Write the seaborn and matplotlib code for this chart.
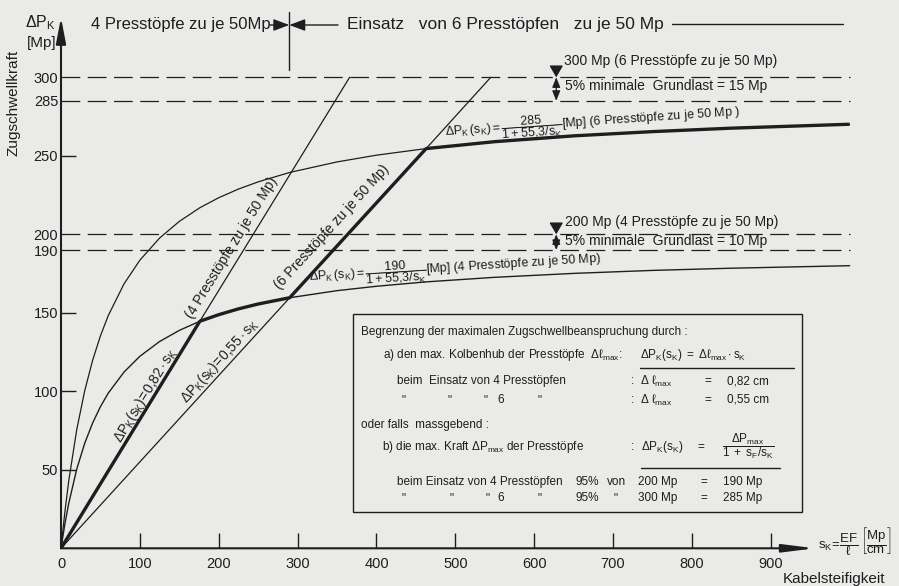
import matplotlib
matplotlib.use('Agg')
import matplotlib.pyplot as plt
import seaborn as sns
from matplotlib import font_manager
from matplotlib.lines import Line2D
from matplotlib.patches import Rectangle

# Kabelsteifigkeit s_K [Mp/cm] und Zugschwellkraft dP_K [Mp]
s_kurve = [0, 5, 10, 20, 30, 40, 50, 60, 80, 100, 125, 150, 176, 200, 225, 250, 290,
           350, 400, 463, 550, 650, 750, 850, 1000]
p_190 = [0, 15.8, 29.1, 50.5, 66.8, 79.7, 90.2, 98.9, 112.3, 122.3, 131.7, 138.8, 144.6,
         148.8, 152.5, 155.6, 159.6, 164.1, 166.9, 169.7, 172.6, 175.1, 177.0, 178.4, 180.0]
p_285 = [0, 23.6, 43.6, 75.7, 100.2, 119.6, 135.3, 148.3, 168.5, 183.5, 197.6, 208.2, 216.9,
         223.3, 228.8, 233.4, 239.4, 246.1, 250.4, 254.6, 259.0, 262.7, 265.4, 267.6, 270.1]
s_082 = [0, 176, 366]
p_082 = [0, 144.6, 300]
s_055 = [0, 290, 463, 545]
p_055 = [0, 159.6, 254.6, 300]
grenzen = [300, 285, 200, 190]
x_ticks = [0, 100, 200, 300, 400, 500, 600, 700, 800, 900]
y_ticks = [50, 100, 150, 190, 200, 250, 285, 300]

# massgebende Grenzkurve (dick): 0,82-Gerade -> 190er Kurve -> 0,55-Gerade -> 285er Kurve
dick_s = s_082[:1] + s_kurve[12:17] + s_kurve[19:]
dick_p = p_082[:1] + p_190[12:17] + p_285[19:]

W, H = 899, 586
bg = '#eaeae8'
ink = '#1e1e1e'


def P(x, y):
    # Pixel (von oben links) -> figure fraction
    return x / W, 1 - y / H


sns.set_theme(style='white')
installed = {f.name for f in font_manager.fontManager.ttflist}
schrift = 'Liberation Sans Narrow' if 'Liberation Sans Narrow' in installed else 'Liberation Sans'
k = 1.15 if 'Narrow' in schrift else 1.0
plt.rcParams['font.family'] = [schrift, 'DejaVu Sans']
plt.rcParams['mathtext.fontset'] = 'custom'
plt.rcParams['mathtext.rm'] = schrift
plt.rcParams['mathtext.it'] = schrift
plt.rcParams['mathtext.sf'] = schrift
plt.rcParams['mathtext.bf'] = schrift + ':bold'
plt.rcParams['text.color'] = ink

fig = plt.figure(figsize=(8.99, 5.86), dpi=100, facecolor=bg)
ax = fig.add_axes([61 / W, 37.7 / H, 796.5 / W, 541.65 / H])
ax.set_facecolor(bg)
ax.set_xlim(0, 1010)
ax.set_ylim(0, 345)
for sp in ax.spines.values():
    sp.set_visible(False)

# Kurven
sns.lineplot(x=s_kurve, y=p_285, ax=ax, color=ink, lw=0.9, sort=False, estimator=None)
sns.lineplot(x=s_kurve, y=p_190, ax=ax, color=ink, lw=1.0, sort=False, estimator=None)
sns.lineplot(x=s_082, y=p_082, ax=ax, color=ink, lw=0.9, sort=False, estimator=None)
sns.lineplot(x=s_055, y=p_055, ax=ax, color=ink, lw=0.9, sort=False, estimator=None)
sns.lineplot(x=dick_s, y=dick_p, ax=ax, color=ink, lw=2.4, sort=False, estimator=None,
             solid_joinstyle='round', solid_capstyle='butt')

ax.hlines(grenzen, 0, 1000, colors=ink, lw=0.9, linestyles=[(0, (15, 6))])

# Achsen mit Pfeilen
ax.annotate('', xy=(956, 0), xytext=(0, 0), annotation_clip=False,
            arrowprops=dict(arrowstyle='-|>,head_length=1.6,head_width=0.2', color=ink,
                            lw=1.5, shrinkA=0, shrinkB=0))
ax.annotate('', xy=(0, 338), xytext=(0, 0), annotation_clip=False,
            arrowprops=dict(arrowstyle='-|>,head_length=1.3,head_width=0.25', color=ink,
                            lw=1.5, shrinkA=0, shrinkB=0))

ax.set_xticks(x_ticks)
ax.set_xticklabels([str(v) for v in x_ticks])
ax.set_yticks(y_ticks)
ax.set_yticklabels([str(v) for v in y_ticks])
ax.tick_params(axis='x', direction='in', length=11, width=1, pad=6, labelsize=10.5 * k,
               color=ink, labelcolor=ink, bottom=True)
ax.tick_params(axis='y', direction='in', length=11, width=1, pad=2, labelsize=10.5 * k,
               color=ink, labelcolor=ink, left=True)
for t, v in zip(ax.yaxis.get_major_ticks(), y_ticks):
    if v in grenzen:
        t.tick1line.set_visible(False)
ax.xaxis.get_major_ticks()[0].tick1line.set_visible(False)

# Bemassung 5% Grundlast
for oben, unten in [(300, 285), (200, 190)]:
    ax.annotate('', xy=(628, oben), xytext=(628, unten),
                arrowprops=dict(arrowstyle='<|-|>,head_length=0.5,head_width=0.2', color=ink,
                                lw=0.9, shrinkA=0, shrinkB=0))
    ax.annotate('', xy=(628, oben), xytext=(628, oben + 6),
                arrowprops=dict(arrowstyle='-|>,head_length=0.6,head_width=0.35', color=ink,
                                lw=0.9, shrinkA=0, shrinkB=0))

fig.text(*P(564, 61), '300 Mp (6 Presstöpfe zu je 50 Mp)', va='center', fontsize=10 * k)
fig.text(*P(565, 86), '5% minimale  Grundlast = 15 Mp', va='center', fontsize=10 * k)
fig.text(*P(565, 222), '200 Mp (4 Presstöpfe zu je 50 Mp)', va='center', fontsize=10 * k)
fig.text(*P(565, 241), '5% minimale  Grundlast = 10 Mp', va='center', fontsize=10 * k)

# Kopfzeile
fig.text(*P(91, 25), '4 Presstöpfe zu je 50Mp', va='center', fontsize=12 * k)
fig.text(*P(347, 25), 'Einsatz   von 6 Presstöpfen   zu je 50 Mp', va='center', fontsize=12.5 * k)
for x0 in (270, 338):
    ax.annotate('', xy=P(289.3, 25), xytext=P(x0, 25), xycoords='figure fraction',
                textcoords='figure fraction',
                arrowprops=dict(arrowstyle='-|>,head_length=0.8,head_width=0.3', color=ink,
                                lw=1, shrinkA=0, shrinkB=0))
fig.add_artist(Line2D([289.3 / W] * 2, [1 - 11.7 / H, 1 - 70 / H], transform=fig.transFigure,
                      color=ink, lw=1))
fig.add_artist(Line2D([672 / W, 843 / W], [1 - 24 / H] * 2, transform=fig.transFigure,
                      color=ink, lw=1))

# Achsbeschriftungen
fig.text(*P(40, 23), r'$\Delta P_K$', ha='center', va='center', fontsize=11.5 * k)
fig.text(*P(42, 43), '[Mp]', ha='center', va='center', fontsize=11 * k)
fig.text(*P(14, 103), 'Zugschwellkraft', rotation=90, ha='center', va='center', fontsize=11 * k)
fig.text(*P(818, 541), r'$s_K\!=\!\dfrac{EF}{\ell}\,\left[\dfrac{Mp}{cm}\right]$',
         ha='left', va='center', fontsize=9.5 * k)
fig.text(*P(783, 579), 'Kabelsteifigkeit', ha='left', va='center', fontsize=11 * k)

# Beschriftung der Kurven
fs = 10 * k
fig.text(*P(146, 395), r'$\Delta P_K(s_K)\!=\!0{,}82\cdot s_K$', rotation=58.5,
         rotation_mode='anchor', ha='center', va='center', fontsize=fs)
fig.text(*P(220, 361), r'$\Delta P_K(s_K)\!=\!0{,}55\cdot s_K$', rotation=47.6,
         rotation_mode='anchor', ha='center', va='center', fontsize=fs)
fig.text(*P(232, 248), '(4 Presstöpfe zu je 50 Mp)', rotation=58.5,
         rotation_mode='anchor', ha='center', va='center', fontsize=fs)
fig.text(*P(332, 227), '(6 Presstöpfe zu je 50 Mp)', rotation=47.6,
         rotation_mode='anchor', ha='center', va='center', fontsize=fs)
fig.text(*P(455, 270), r'$\Delta P_K\,(s_K) = \dfrac{190}{1+55{,}3/s_K}$[Mp] (4 Presstöpfe zu je 50 Mp)',
         rotation=3.6, rotation_mode='anchor', ha='center', va='center', fontsize=9 * k)
fig.text(*P(593, 124), r'$\Delta P_K\,(s_K) = \dfrac{285}{1+55{,}3/s_K}$[Mp] (6 Presstöpfe zu je 50 Mp )',
         rotation=3.9, rotation_mode='anchor', ha='center', va='center', fontsize=9 * k)

# Kasten mit Erlaeuterung
fig.add_artist(Rectangle(P(352.5, 511.7), (801.7 - 352.5) / W, (511.7 - 314) / H,
                         transform=fig.transFigure, fill=False, ec=ink, lw=1))
zeilen = [
    (361, 332, 'Begrenzung der maximalen Zugschwellbeanspruchung durch :'),
    (383, 355, r'a) den max. Kolbenhub der Presstöpfe  $\Delta\ell_{max}$:'),
    (640, 355, r'$\Delta P_K(s_K)\ =\ \Delta\ell_{max}\cdot s_K$'),
    (397, 381, 'beim  Einsatz von 4 Presstöpfen'),
    (631, 381, ':'), (640, 381, r'$\Delta\ \ell_{max}$'), (704, 381, '='), (727, 381, '0,82 cm'),
    (401, 400, '"'), (447, 400, '"'), (483, 400, '"'), (497, 400, '6'), (538, 400, '"'),
    (631, 400, ':'), (640, 400, r'$\Delta\ \ell_{max}$'), (704, 400, '='), (727, 400, '0,55 cm'),
    (361, 425, 'oder falls  massgebend :'),
    (382, 447, r'b) die max. Kraft $\Delta P_{max}$ der Presstöpfe'),
    (631, 447, ':'), (641, 447, r'$\Delta P_K(s_K)$'), (697, 447, '='),
    (397, 482, 'beim Einsatz von 4 Presstöpfen'), (575, 482, '95%'), (607, 482, 'von'),
    (638, 482, '200 Mp'), (700, 482, '='), (723, 482, '190 Mp'),
    (402, 498, '"'), (449, 498, '"'), (486, 498, '"'), (497, 498, '6'), (538, 498, '"'),
    (575, 498, '95%'), (614, 498, '"'), (638, 498, '300 Mp'), (700, 498, '='), (723, 498, '285 Mp'),
]
for x, y, txt in zeilen:
    fig.text(*P(x, y), txt, ha='left', va='center', fontsize=8.5 * k)
fig.text(*P(748, 446), r'$\dfrac{\Delta P_{max}}{1\ +\ s_F/s_K}$', ha='center', va='center',
         fontsize=8.5 * k)
for x0, x1, y in [(640, 794, 368), (641, 780, 468)]:
    fig.add_artist(Line2D([x0 / W, x1 / W], [1 - y / H] * 2, transform=fig.transFigure,
                          color=ink, lw=1))

fig.savefig('out.png', dpi=100, facecolor=bg)
